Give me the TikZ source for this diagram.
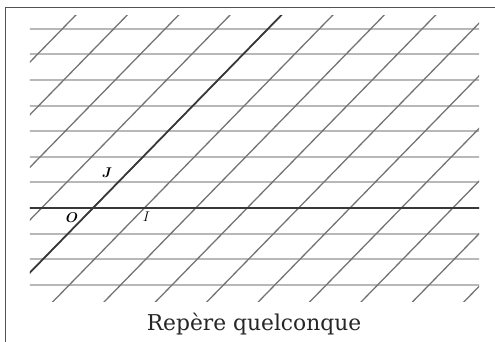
\documentclass[tikz,border=0pt]{standalone}
\usepackage{amsmath,amssymb}
\usepackage{bm}
\usepackage{fontspec}
\setmainfont{DejaVu Serif}
\usepackage{tikz}
\usetikzlibrary{positioning}
\usepackage{xcolor}

\begin{document}
\begin{tikzpicture}[
  x={(1.542cm,0cm)},y={(0.75cm,0.768cm)},
  frame/.style={draw=black!68,line width=0.9pt},
  hline/.style={draw=black!28,line width=1.8pt},
  oline/.style={draw=black!55,line width=1.1pt},
  axis/.style={draw=black!78,line width=1.5pt},
  lbl/.style={inner sep=0pt,font=\fontsize{13}{15}\selectfont},
  caption/.style={inner sep=0pt,font=\fontsize{18.6}{22}\selectfont,text=black!85}
]
\useasboundingbox (-2.79cm,-4.02cm) rectangle (12.06cm,6.24cm);
\draw[frame] (-2.625cm,-4.5cm) |- (12.5cm,6.015cm);
\coordinate (O) at (0,0);
\coordinate (I) at (1,0);
\coordinate (J) at (0,1);
\begin{scope}
  \clip (-1.89cm,-2.82cm) rectangle (11.58cm,5.76cm);
  \foreach \m in {-3,...,7}
    \draw[hline] (-12,\m) -- (12,\m);
  \foreach \k in {-4,...,9}
    \draw[oline] (\k,-4) -- (\k,8);
  \draw[axis] (-5,0) -- (12,0);
  \draw[axis] (0,-4) -- (0,8);
\end{scope}
\node[lbl] (labO) at ([xshift=-0.63cm,yshift=-0.30cm]O) {$\bm{O}$};
\node[lbl] (labI) at ([xshift=0.06cm,yshift=-0.27cm]I) {$I$};
\node[lbl] (labJ) at ([xshift=-0.33cm,yshift=0.28cm]J) {$\bm{J}$};
\node[caption] (cap) at (4.83cm,-3.495cm) {Repère quelconque};
\end{tikzpicture}
\end{document}
